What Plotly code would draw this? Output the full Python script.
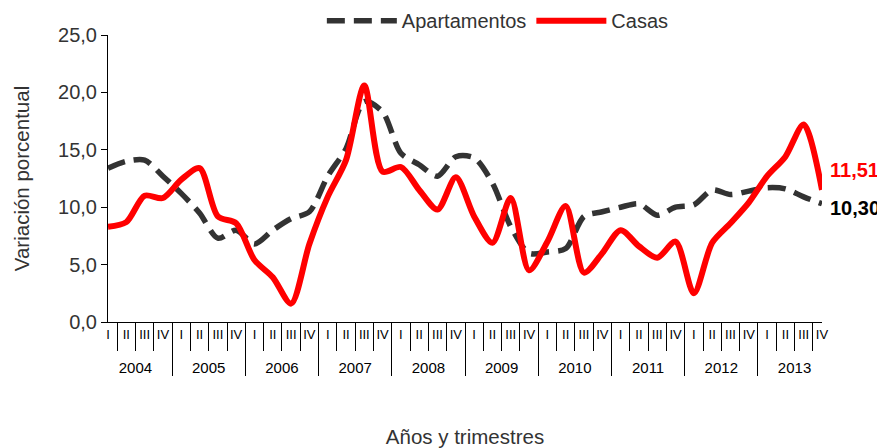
import plotly.graph_objects as go

years = ["2004", "2005", "2006", "2007", "2008", "2009", "2010", "2011", "2012", "2013"]
quarters = ["I", "II", "III", "IV"]

apartamentos = [13.4, 14.0, 14.1, 12.7,
                11.2, 9.5, 7.3, 8.0,
                6.8, 8.0, 9.0, 9.6,
                12.7, 15.1, 19.2, 18.3,
                14.7, 13.7, 12.7, 14.4,
                14.3, 12.1, 8.3, 6.0,
                6.1, 6.4, 9.2, 9.6,
                10.0, 10.3, 9.3, 10.0,
                10.2, 11.5, 11.1, 11.4,
                11.7, 11.6, 10.9, 10.30]

casas = [8.3, 8.7, 11.0, 10.8,
         12.4, 13.4, 9.2, 8.6,
         5.4, 3.9, 1.6, 6.8,
         10.9, 14.1, 20.6, 13.1,
         13.5, 11.5, 9.8, 12.6,
         9.2, 6.9, 10.8, 4.5,
         7.0, 10.1, 4.3, 6.0,
         8.0, 6.6, 5.6, 7.0,
         2.5, 6.9, 8.6, 10.4,
         12.7, 14.4, 17.2, 11.51]

# year labels get a leading blank line so they sit in the lower row
year_labels = ["<br><span style='font-size:15px'>" + y + "</span>" for y in years]
x_years = [yl for yl in year_labels for _ in quarters]
x_quarters = [q for _ in years for q in quarters]

FONT = "Liberation Sans, Arial, sans-serif"

fig = go.Figure()
fig.add_trace(go.Scatter(
    x=[x_years, x_quarters], y=apartamentos, name="Apartamentos",
    mode="lines", line=dict(color="#333333", width=5.5, dash="18px,9px", shape="spline", smoothing=0.8),
))
fig.add_trace(go.Scatter(
    x=[x_years, x_quarters], y=casas, name="Casas",
    mode="lines", line=dict(color="#ff0000", width=6, shape="spline", smoothing=0.8),
))

fig.add_annotation(x=1, xref="paper", y=casas[-1], yref="y", xanchor="left", xshift=6, yshift=20,
                   text="<b>11,51</b>", showarrow=False, font=dict(color="#ff0000", size=20, family=FONT))
fig.add_annotation(x=1, xref="paper", y=apartamentos[-1], yref="y", xanchor="left", xshift=6, yshift=-4,
                   text="<b>10,30</b>", showarrow=False, font=dict(color="#000000", size=20, family=FONT))

fig.update_layout(
    width=877, height=440,
    margin=dict(l=100, r=63, t=27, b=126, autoexpand=False),
    paper_bgcolor="white", plot_bgcolor="white",
    separators=",.",
    font=dict(family=FONT, color="#333333", size=20),
    showlegend=True,
    legend=dict(orientation="h", x=0.546, xanchor="center", y=1.05, yanchor="middle",
                font=dict(size=20, color="#333333"), itemwidth=70, bgcolor="rgba(0,0,0,0)",
                tracegroupgap=0),
    xaxis=dict(
        type="multicategory", showline=True, linecolor="#000000", linewidth=1,
        ticks="outside", tickson="boundaries", ticklen=28, tickcolor="#000000",
        showdividers=True, dividercolor="#000000", dividerwidth=1, tickangle=0,
        tickfont=dict(size=13, color="#000000"), showgrid=False, zeroline=False,
        title=dict(text="Años y trimestres", font=dict(size=20.5, color="#333333"), standoff=55),
        automargin=False,
    ),
    yaxis=dict(
        range=[0, 25], dtick=5, tickformat=".1f", showline=True, linecolor="#000000", linewidth=1,
        ticks="outside", ticklen=6, tickcolor="#000000", showgrid=False, zeroline=False,
        tickfont=dict(size=20, color="#333333"),
        title=dict(text="Variación porcentual", font=dict(size=20.5, color="#333333"), standoff=22),
        automargin=False,
    ),
)

fig.write_html("out.html")
